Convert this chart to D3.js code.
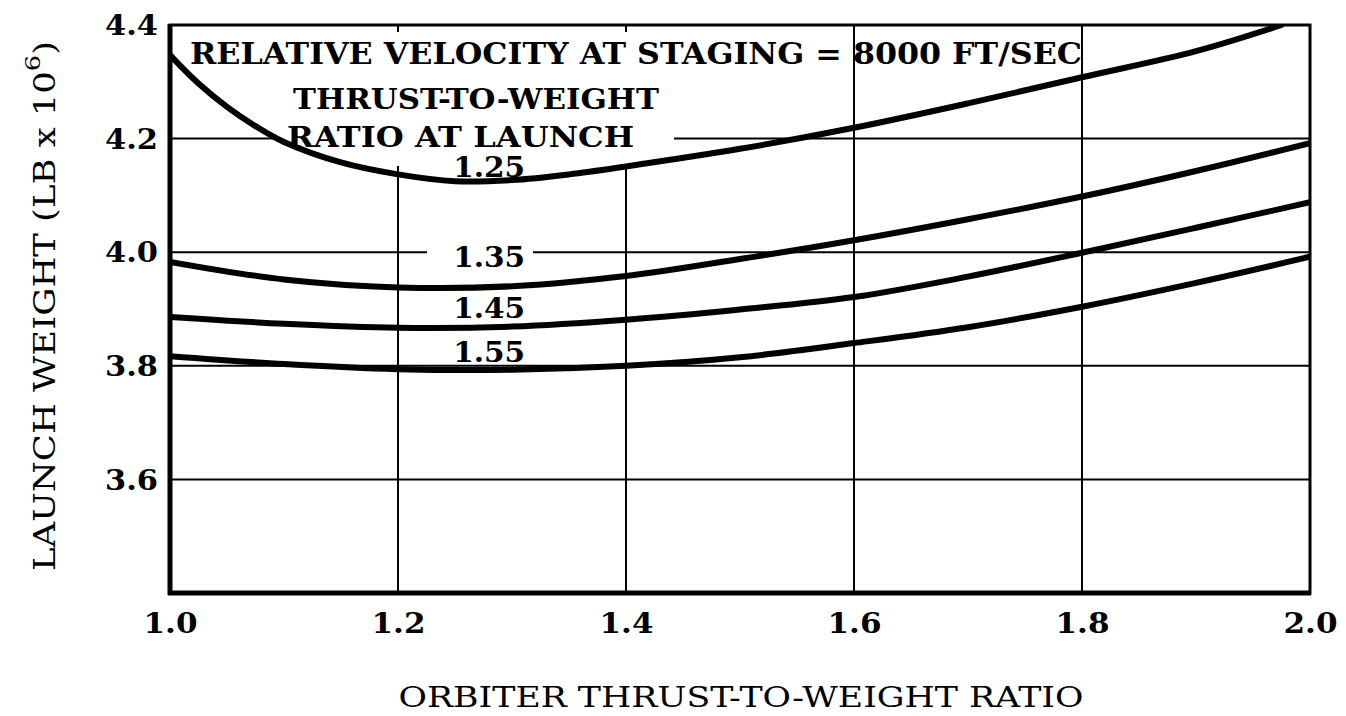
<!DOCTYPE html>
<html>
<head>
<meta charset="utf-8">
<script src="https://cdn.jsdelivr.net/npm/d3@7"></script>
<style>
  html, body { margin: 0; padding: 0; background: #fff; }
  svg { display: block; }
  text { font-family: "DejaVu Serif", "Liberation Serif", serif; fill: #000; }
</style>
</head>
<body>
<svg id="chart" width="1346" height="716"></svg>
<script>
// ---- data ----
const xTickValues = [1.0, 1.2, 1.4, 1.6, 1.8, 2.0];
const xTickLabels = ["1.0", "1.2", "1.4", "1.6", "1.8", "2.0"];
const yTickValues = [3.6, 3.8, 4.0, 4.2, 4.4];
const yTickLabels = ["3.6", "3.8", "4.0", "4.2", "4.4"];

// launch thrust-to-weight 1.25 (own x samples; curve leaves the top of the frame)
const orbiterTW125 = [1.0, 1.025, 1.05, 1.075, 1.1, 1.15, 1.2, 1.25, 1.3, 1.35, 1.4, 1.5, 1.6, 1.7, 1.8, 1.9, 1.975];
const launchWeight125 = [4.347, 4.297, 4.256, 4.222, 4.194, 4.158, 4.137, 4.125, 4.127, 4.137, 4.151, 4.182, 4.219, 4.262, 4.308, 4.354, 4.400];

// other curves share the same x samples
const orbiterTW = [1.0, 1.1, 1.2, 1.3, 1.4, 1.5, 1.6, 1.7, 1.8, 1.9, 2.0];
const launchWeight135 = [3.983, 3.952, 3.938, 3.940, 3.958, 3.988, 4.021, 4.058, 4.098, 4.143, 4.192];
const launchWeight145 = [3.886, 3.874, 3.867, 3.869, 3.881, 3.899, 3.921, 3.957, 3.999, 4.043, 4.088];
const launchWeight155 = [3.817, 3.803, 3.794, 3.793, 3.800, 3.815, 3.840, 3.868, 3.904, 3.946, 3.992];

const curveLabels = ["1.25", "1.35", "1.45", "1.55"];

const titleText = "RELATIVE VELOCITY AT STAGING = 8000 FT/SEC";
const legendLine1 = "THRUST-TO-WEIGHT";
const legendLine2 = "RATIO AT LAUNCH";
const xTitle = "ORBITER THRUST-TO-WEIGHT RATIO";

// ---- layout ----
const svg = d3.select("#chart");
const L = 170, R = 1310, T = 25, B = 593;
const x = d3.scaleLinear().domain([1.0, 2.0]).range([L, R]);
const y = d3.scaleLinear().domain([3.4, 4.4]).range([B, T]);

// grid lines
const grid = svg.append("g").attr("stroke", "#000").attr("stroke-width", 2);
grid.selectAll("line.v").data(xTickValues.filter(v => v > 1.0 && v < 2.0)).join("line")
  .attr("x1", d => x(d)).attr("x2", d => x(d)).attr("y1", T).attr("y2", B);
grid.selectAll("line.h").data(yTickValues.filter(v => v < 4.4)).join("line")
  .attr("x1", L).attr("x2", R).attr("y1", d => y(d)).attr("y2", d => y(d));

// white backgrounds behind annotation text (interrupt grid lines)
const masks = svg.append("g").attr("fill", "#fff");
masks.append("rect").attr("x", 178).attr("y", 32).attr("width", 845 - 178).attr("height", 72 - 32);
masks.append("rect").attr("x", 282).attr("y", 70).attr("width", 674 - 282).attr("height", 166 - 70);
masks.append("rect").attr("x", 427).attr("y", 240).attr("width", 533 - 427).attr("height", 28);

// curves
svg.append("clipPath").attr("id", "plotclip")
  .append("rect").attr("x", L).attr("y", T - 1).attr("width", R - L).attr("height", B - T + 1);
const line = d3.line().x(d => x(d[0])).y(d => y(d[1])).curve(d3.curveCatmullRom.alpha(0.5));
const seriesData = [
  d3.zip(orbiterTW125, launchWeight125),
  d3.zip(orbiterTW, launchWeight135),
  d3.zip(orbiterTW, launchWeight145),
  d3.zip(orbiterTW, launchWeight155)
];
svg.append("g").attr("clip-path", "url(#plotclip)")
  .selectAll("path").data(seriesData).join("path")
  .attr("d", line).attr("fill", "none").attr("stroke", "#000")
  .attr("stroke-width", 6).attr("stroke-linejoin", "round").attr("stroke-linecap", "round");

// frame
svg.append("rect").attr("x", L).attr("y", T).attr("width", R - L).attr("height", B - T)
  .attr("fill", "none").attr("stroke", "#000").attr("stroke-width", 3);
svg.append("line").attr("x1", L).attr("x2", L).attr("y1", T - 1).attr("y2", B + 2)
  .attr("stroke", "#000").attr("stroke-width", 5);
svg.append("line").attr("x1", L - 2).attr("x2", R + 1).attr("y1", B).attr("y2", B)
  .attr("stroke", "#000").attr("stroke-width", 5);

// axes (labels only)
const xAxis = d3.axisBottom(x).tickValues(xTickValues)
  .tickFormat((d, i) => xTickLabels[i]).tickSize(0).tickPadding(0);
const gx = svg.append("g").attr("transform", `translate(0,${B})`).call(xAxis);
gx.select(".domain").remove();
gx.selectAll("text").attr("y", 40).attr("dy", null)
  .style("font-family", "'DejaVu Serif', serif").style("font-weight", "bold")
  .style("font-size", "27px").attr("textLength", 54).attr("lengthAdjust", "spacingAndGlyphs");

const yAxis = d3.axisLeft(y).tickValues(yTickValues)
  .tickFormat((d, i) => yTickLabels[i]).tickSize(0).tickPadding(12);
const gy = svg.append("g").attr("transform", `translate(${L},0)`).call(yAxis);
gy.select(".domain").remove();
gy.selectAll("text").attr("dy", "0.36em")
  .style("font-family", "'DejaVu Serif', serif").style("font-weight", "bold")
  .style("font-size", "27px").attr("textLength", 53).attr("lengthAdjust", "spacingAndGlyphs");

// annotations
svg.append("text").attr("x", 190).attr("y", 64)
  .attr("font-weight", "bold").attr("font-size", 29)
  .attr("textLength", 892).attr("lengthAdjust", "spacingAndGlyphs").text(titleText);
svg.append("text").attr("x", 293).attr("y", 109)
  .attr("font-weight", "bold").attr("font-size", 28)
  .attr("textLength", 366).attr("lengthAdjust", "spacingAndGlyphs").text(legendLine1);
svg.append("text").attr("x", 287).attr("y", 147)
  .attr("font-weight", "bold").attr("font-size", 28)
  .attr("textLength", 347).attr("lengthAdjust", "spacingAndGlyphs").text(legendLine2);

const labelY = [4.132, 3.974, 3.884, 3.807];
svg.append("g").selectAll("text").data(curveLabels).join("text")
  .attr("x", x(1.28)).attr("y", (d, i) => y(labelY[i]))
  .attr("text-anchor", "middle").attr("font-weight", "bold").attr("font-size", 28)
  .attr("textLength", 72).attr("lengthAdjust", "spacingAndGlyphs").text(d => d);

// axis titles
svg.append("text").attr("x", (L + R) / 2 + 1).attr("y", 707)
  .attr("text-anchor", "middle").attr("font-size", 27)
  .attr("textLength", 685).attr("lengthAdjust", "spacingAndGlyphs").text(xTitle);

const yt = svg.append("text").attr("transform", `translate(55,${(T + B) / 2 - 3}) rotate(-90)`)
  .attr("text-anchor", "middle").attr("font-size", 29)
  .attr("textLength", 530).attr("lengthAdjust", "spacingAndGlyphs");
yt.append("tspan").text("LAUNCH WEIGHT (LB x 10");
yt.append("tspan").attr("dy", -15).attr("font-size", 21).text("6");
yt.append("tspan").attr("dy", 15).text(")");
</script>
</body>
</html>
